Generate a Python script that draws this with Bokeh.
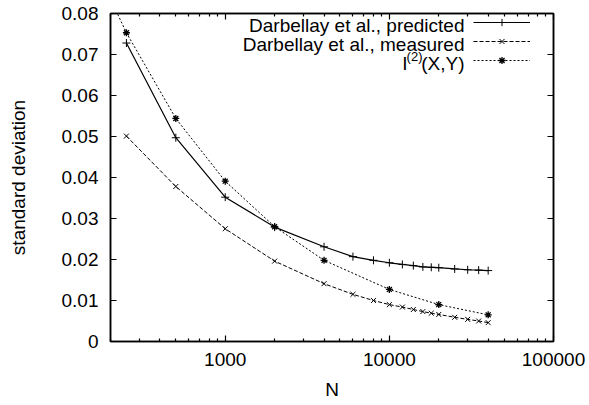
from bokeh.plotting import figure
from bokeh.models import (LogAxis, LinearAxis, FixedTicker, CustomJSTickFormatter,
                          Legend, LegendItem, Label, Range1d)
from bokeh.embed import file_html
from bokeh.resources import INLINE

# ---- data ----
N_pred = [250, 500, 1000, 2000, 4000, 6000, 8000, 10000, 12000, 14000, 16000,
          18000, 20000, 25000, 30000, 35000, 40000]
sd_pred = [0.0728, 0.0497, 0.0352, 0.0279, 0.0231, 0.0207, 0.0198, 0.0192, 0.0188,
           0.0185, 0.0182, 0.0181, 0.0180, 0.0177, 0.0175, 0.0174, 0.0173]
N_meas = [250, 500, 1000, 2000, 4000, 6000, 8000, 10000, 12000, 14000, 16000,
          18000, 20000, 25000, 30000, 35000, 40000]
sd_meas = [0.0501, 0.0378, 0.0275, 0.0196, 0.0141, 0.0115, 0.0100, 0.0090, 0.0084,
           0.0078, 0.0073, 0.0069, 0.0066, 0.0059, 0.0054, 0.0050, 0.0046]
N_i2 = [125, 250, 500, 1000, 2000, 4000, 10000, 20000, 40000]
sd_i2 = [0.101, 0.0753, 0.0544, 0.0391, 0.0280, 0.0198, 0.0127, 0.0090, 0.0065]

x_major = [1000, 10000, 100000]
x_minor = [200, 300, 400, 500, 600, 700, 800, 900,
           2000, 3000, 4000, 5000, 6000, 7000, 8000, 9000,
           20000, 30000, 40000, 50000, 60000, 70000, 80000, 90000]
y_ticks = [0, 0.01, 0.02, 0.03, 0.04, 0.05, 0.06, 0.07, 0.08]

legend_labels = ["Darbellay et al., predicted", "Darbellay et al., measured"]

FONT = "Liberation Sans"
FS = "19px"
FRAME_L, FRAME_T, FRAME_W, FRAME_H = 110, 13, 443, 328

p = figure(width=589, height=405, x_axis_type="log",
           x_range=Range1d(200, 100000), y_range=Range1d(0, 0.08),
           output_backend="svg", toolbar_location=None,
           frame_width=FRAME_W, frame_height=FRAME_H,
           min_border_left=FRAME_L, min_border_right=589 - FRAME_L - FRAME_W,
           min_border_top=FRAME_T, min_border_bottom=405 - FRAME_T - FRAME_H)
p.background_fill_color = "white"
p.border_fill_color = "white"
p.outline_line_color = "black"
p.outline_line_width = 1.5
p.grid.visible = False

yfmt = CustomJSTickFormatter(code="return tick == 0 ? '0' : tick.toFixed(2);")
xfmt = CustomJSTickFormatter(code="return tick.toFixed(0);")
nofmt = CustomJSTickFormatter(code="return '';")

def style_axis(ax):
    ax.major_tick_in = 6
    ax.major_tick_out = 0
    ax.minor_tick_in = 3
    ax.minor_tick_out = 0
    ax.axis_line_color = "black"
    ax.axis_line_width = 1.5
    ax.major_tick_line_color = "black"
    ax.minor_tick_line_color = "black"
    ax.major_tick_line_width = 1.2
    ax.minor_tick_line_width = 1.2
    ax.major_label_text_font = FONT
    ax.major_label_text_font_size = FS
    ax.major_label_text_color = "black"
    ax.axis_label_text_font = FONT
    ax.axis_label_text_font_size = FS
    ax.axis_label_text_font_style = "normal"
    ax.axis_label_text_color = "black"

xa = p.xaxis[0]
xa.ticker = FixedTicker(ticks=x_major, minor_ticks=x_minor)
xa.formatter = xfmt
style_axis(xa)
xa.major_label_standoff = 11
xa.axis_label = "N"
xa.axis_label_standoff = 10

ya = p.yaxis[0]
ya.ticker = FixedTicker(ticks=y_ticks)
ya.formatter = yfmt
style_axis(ya)
ya.major_label_standoff = 12
ya.axis_label = "standard deviation"
ya.axis_label_standoff = 30

top = LogAxis(ticker=FixedTicker(ticks=x_major, minor_ticks=x_minor), formatter=nofmt)
style_axis(top)
top.major_label_standoff = 0
p.add_layout(top, "above")

right = LinearAxis(ticker=FixedTicker(ticks=y_ticks), formatter=nofmt)
style_axis(right)
right.major_label_standoff = 0
p.add_layout(right, "right")

# ---- series ----
l1 = p.line(N_pred, sd_pred, line_color="black", line_width=1.2)
m1 = p.scatter(N_pred, sd_pred, marker="cross", size=8, line_color="black", line_width=1)
l2 = p.line(N_meas, sd_meas, line_color="black", line_width=1, line_dash="4 2")
m2 = p.scatter(N_meas, sd_meas, marker="x", size=7, line_color="black", line_width=1)
l3 = p.line(N_i2, sd_i2, line_color="black", line_width=1, line_dash="2 2")
m3 = p.scatter(N_i2, sd_i2, marker="asterisk", size=7, line_color="black", line_width=1.3)

# legend samples (gnuplot style: sample to the right of the text)
legend = Legend(items=[LegendItem(label=" ", renderers=[l1, m1]),
                       LegendItem(label=" ", renderers=[l2, m2]),
                       LegendItem(label=" ", renderers=[l3, m3])],
                location=(363, 272), orientation="vertical",
                glyph_width=57, glyph_height=18, label_height=18, label_width=0,
                label_standoff=0, spacing=1, padding=0, margin=0,
                border_line_alpha=0, background_fill_alpha=0,
                label_text_font=FONT, label_text_font_size="16px")
p.add_layout(legend, "center")

def fx(px):  # canvas px -> frame-relative screen x
    return px - FRAME_L

def fy(py):  # canvas px (from top) -> frame-relative screen y (from bottom)
    return FRAME_T + FRAME_H - py

for txt, yy in zip(legend_labels, [25, 43.5]):
    p.add_layout(Label(x=fx(464), y=fy(yy), x_units="screen", y_units="screen", text=txt,
                       text_align="right", text_baseline="middle",
                       text_font=FONT, text_font_size=FS, text_color="black"))
# I^(2)(X,Y)
p.add_layout(Label(x=fx(464), y=fy(63), x_units="screen", y_units="screen", text="(X,Y)",
                   text_align="right", text_baseline="middle",
                   text_font=FONT, text_font_size=FS, text_color="black"))
p.add_layout(Label(x=fx(422), y=fy(56), x_units="screen", y_units="screen", text="(2)",
                   text_align="right", text_baseline="middle",
                   text_font=FONT, text_font_size="13px", text_color="black"))
p.add_layout(Label(x=fx(407), y=fy(63), x_units="screen", y_units="screen", text="I",
                   text_align="right", text_baseline="middle",
                   text_font=FONT, text_font_size=FS, text_color="black"))

open("out.html", "w").write(file_html(p, INLINE))
